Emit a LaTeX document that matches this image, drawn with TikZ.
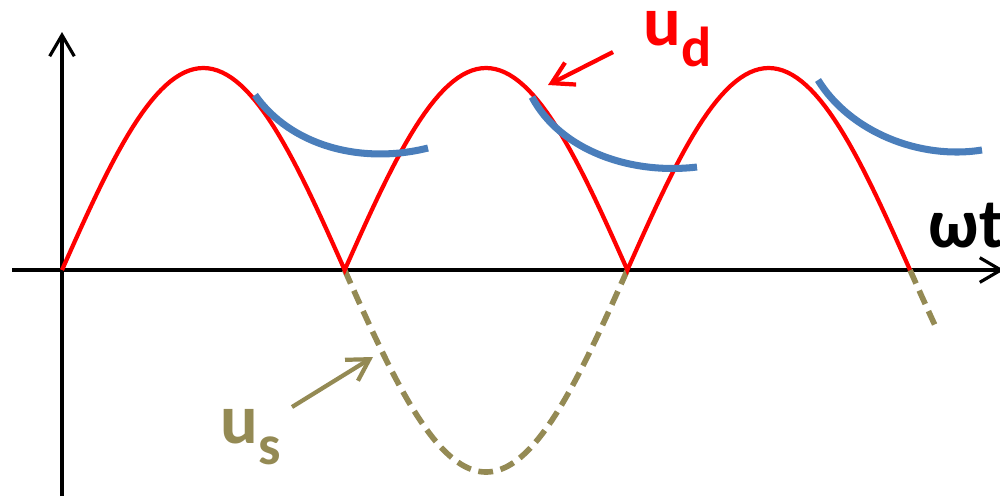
\documentclass[tikz,border=0pt]{standalone}
\usepackage{fontspec}
\setmainfont{Carlito}
\usetikzlibrary{arrows.meta}
\definecolor{udred}{RGB}{255,0,0}
\definecolor{ucblue}{RGB}{74,126,187}
\definecolor{usolive}{RGB}{148,138,84}
\newcommand{\lowsub}[1]{\raisebox{-.3em}{\fontsize{16}{18}\selectfont #1}}
\begin{document}
\begin{tikzpicture}[x=.01cm,y=-.01cm,>={Straight Barb[length=6pt,width=7pt]},
  font=\fontsize{20}{24}\selectfont\bfseries,
  axis/.style={line width=.9pt,black},
  udline/.style={udred,line width=1.2pt},
  usline/.style={usolive,line width=1.6pt,dash pattern=on 4.2pt off 2.2pt},
  ucline/.style={ucblue,line width=2pt}]
  \useasboundingbox (0,0) rectangle (1000,496);
  % axes
  \coordinate (ybot) at (62,496);
  \coordinate (ytop) at (62,32);
  \coordinate (xl) at (12,270);
  \coordinate (xr) at (1004,270);
  \draw[axis,->] (ybot)--(ytop);
  \draw[axis,->] (xl)--(xr);
  \node[anchor=base west,inner sep=0] (wt) at (928,247) {ωt};
  % source voltage, negative half waves
  \draw[usline] plot[domain=180:360,samples=91] ({62+\x*1.5704},{270-202*sin(\x)});
  \draw[usline] plot[domain=540:556,samples=9] ({62+\x*1.5704},{270-202*sin(\x)});
  % rectified voltage
  \draw[udline,line join=miter] plot[domain=0:540,samples=181] ({62+\x*1.5704},{270-202*abs(sin(\x))});
  % smoothed voltage
  \draw[ucline] (255,95) .. controls (290,145) and (360,165) .. (428,148);
  \draw[ucline] (532,97) .. controls (560,150) and (630,175) .. (697,167);
  \draw[ucline] (818,80) .. controls (850,132) and (920,160) .. (982,150);
  % labels
  \node[udred,anchor=base west,inner sep=0] (ud) at (643,45) {u\lowsub{d}};
  \coordinate (udtail) at (613,52);
  \coordinate (udtip) at (548,85);
  \draw[udred,line width=1.2pt,->] (udtail)--(udtip);
  \node[usolive,anchor=base west,inner sep=0] (us) at (220,443) {u\lowsub{s}};
  \coordinate (ustail) at (292,407);
  \coordinate (ustip) at (373,357);
  \draw[usolive,line width=1.2pt,->] (ustail)--(ustip);
\end{tikzpicture}
\end{document}
